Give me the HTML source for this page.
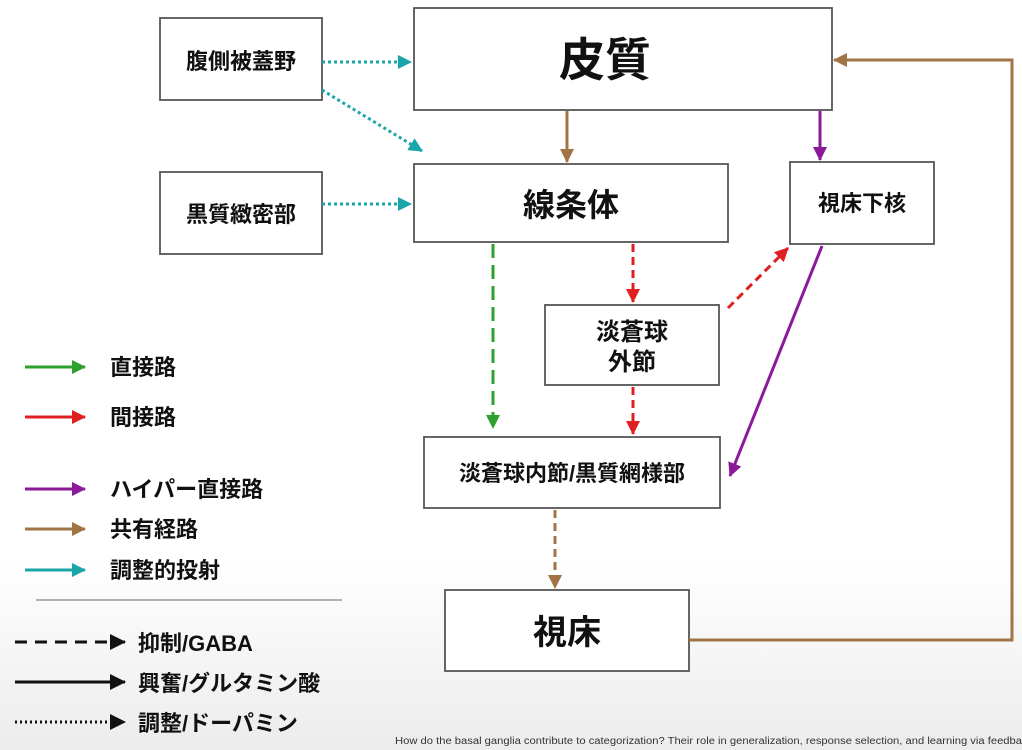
<!DOCTYPE html>
<html><head><meta charset="utf-8"><style>
body{margin:0;width:1022px;height:750px;overflow:hidden;background:linear-gradient(#fff 0,#fff 560px,#ececec 750px);font-family:"Liberation Sans","Noto Sans CJK JP",sans-serif}
svg{position:absolute;left:0;top:0}
text{font-family:"Liberation Sans","Noto Sans CJK JP",sans-serif;font-weight:bold;fill:#111}
.b{fill:#fff;stroke:#555;stroke-width:1.8}
</style></head><body>
<svg width="1022" height="750" viewBox="0 0 1022 750">
<defs>
<marker id="t" markerWidth="14" markerHeight="14" refX="13" refY="7" orient="auto" markerUnits="userSpaceOnUse" viewBox="0 0 14 14"><path d="M0,0L14,7L0,14z" fill="#1aa5a8"/></marker>
<marker id="br" markerWidth="14" markerHeight="14" refX="13" refY="7" orient="auto" markerUnits="userSpaceOnUse" viewBox="0 0 14 14"><path d="M0,0L14,7L0,14z" fill="#a07444"/></marker>
<marker id="p" markerWidth="14" markerHeight="14" refX="13" refY="7" orient="auto" markerUnits="userSpaceOnUse" viewBox="0 0 14 14"><path d="M0,0L14,7L0,14z" fill="#8a1a98"/></marker>
<marker id="g" markerWidth="14" markerHeight="14" refX="13" refY="7" orient="auto" markerUnits="userSpaceOnUse" viewBox="0 0 14 14"><path d="M0,0L14,7L0,14z" fill="#2ea02e"/></marker>
<marker id="r" markerWidth="14" markerHeight="14" refX="13" refY="7" orient="auto" markerUnits="userSpaceOnUse" viewBox="0 0 14 14"><path d="M0,0L14,7L0,14z" fill="#e02020"/></marker>
<marker id="k" markerWidth="16" markerHeight="16" refX="15" refY="8" orient="auto" markerUnits="userSpaceOnUse" viewBox="0 0 16 16"><path d="M0,0L16,8L0,16z" fill="#111"/></marker>
</defs>
<rect class="b" x="160" y="18" width="162" height="82"/>
<text x="241" y="69" font-size="22" text-anchor="middle">腹側被蓋野</text>
<rect class="b" x="414" y="8" width="418" height="102"/>
<text x="605" y="76" font-size="46" text-anchor="middle">皮質</text>
<rect class="b" x="160" y="172" width="162" height="82"/>
<text x="241" y="222" font-size="22" text-anchor="middle">黒質緻密部</text>
<rect class="b" x="414" y="164" width="314" height="78"/>
<text x="571" y="216" font-size="32" text-anchor="middle">線条体</text>
<rect class="b" x="790" y="162" width="144" height="82"/>
<text x="862" y="211" font-size="22" text-anchor="middle">視床下核</text>
<rect class="b" x="545" y="305" width="174" height="80"/>
<text x="632" y="340" font-size="24" text-anchor="middle">淡蒼球</text>
<text x="632" y="370" font-size="24" text-anchor="middle">外節</text>
<rect class="b" x="424" y="437" width="296" height="71"/>
<text x="572" y="481" font-size="22" text-anchor="middle">淡蒼球内節/黒質網様部</text>
<rect class="b" x="445" y="590" width="244" height="81"/>
<text x="567" y="644" font-size="34" text-anchor="middle">視床</text>

<g fill="none" stroke-width="3">
<line x1="322" y1="62" x2="411" y2="62" stroke="#1aa5a8" stroke-dasharray="3,3" marker-end="url(#t)"/>
<line x1="322" y1="90" x2="422" y2="151" stroke="#1aa5a8" stroke-dasharray="3,3" marker-end="url(#t)"/>
<line x1="322" y1="204" x2="411" y2="204" stroke="#1aa5a8" stroke-dasharray="3,3" marker-end="url(#t)"/>
<line x1="567" y1="111" x2="567" y2="162" stroke="#a07444" marker-end="url(#br)"/>
<line x1="820" y1="111" x2="820" y2="160" stroke="#8a1a98" marker-end="url(#p)"/>
<line x1="493" y1="244" x2="493" y2="428" stroke="#2ea02e" stroke-dasharray="14,7" marker-end="url(#g)"/>
<line x1="633" y1="244" x2="633" y2="302" stroke="#e02020" stroke-dasharray="8,5" marker-end="url(#r)"/>
<line x1="633" y1="387" x2="633" y2="434" stroke="#e02020" stroke-dasharray="8,5" marker-end="url(#r)"/>
<line x1="728" y1="308" x2="788" y2="248" stroke="#e02020" stroke-dasharray="8,5" marker-end="url(#r)"/>
<line x1="822" y1="246" x2="730" y2="476" stroke="#8a1a98" marker-end="url(#p)"/>
<line x1="555" y1="510" x2="555" y2="588" stroke="#a07444" stroke-dasharray="8,5" marker-end="url(#br)"/>
<polyline points="689,640 1012,640 1012,60 834,60" stroke="#a07444" marker-end="url(#br)"/>
<line x1="25" y1="367" x2="85" y2="367" stroke="#2ea02e" marker-end="url(#g)"/>
<line x1="25" y1="417" x2="85" y2="417" stroke="#e02020" marker-end="url(#r)"/>
<line x1="25" y1="489" x2="85" y2="489" stroke="#8a1a98" marker-end="url(#p)"/>
<line x1="25" y1="529" x2="85" y2="529" stroke="#a07444" marker-end="url(#br)"/>
<line x1="25" y1="570" x2="85" y2="570" stroke="#1aa5a8" marker-end="url(#t)"/>
<line x1="36" y1="600" x2="342" y2="600" stroke="#999" stroke-width="1.5"/>
<line x1="15" y1="642" x2="125" y2="642" stroke="#111" stroke-dasharray="12,8" marker-end="url(#k)"/>
<line x1="15" y1="682" x2="125" y2="682" stroke="#111" marker-end="url(#k)"/>
<line x1="15" y1="722" x2="125" y2="722" stroke="#111" stroke-dasharray="2,3" marker-end="url(#k)"/>
</g>
<g font-size="22">
<text x="110" y="375">直接路</text>
<text x="110" y="425">間接路</text>
<text x="110" y="497">ハイパー直接路</text>
<text x="110" y="537">共有経路</text>
<text x="110" y="578">調整的投射</text>
<text x="138" y="651">抑制/GABA</text>
<text x="138" y="691">興奮/グルタミン酸</text>
<text x="138" y="731">調整/ドーパミン</text>
</g>
<text x="395" y="744" font-size="10" textLength="627" lengthAdjust="spacingAndGlyphs" style="font-weight:normal;fill:#333">How do the basal ganglia contribute to categorization? Their role in generalization, response selection, and learning via feedba</text>
</svg>
</body></html>
